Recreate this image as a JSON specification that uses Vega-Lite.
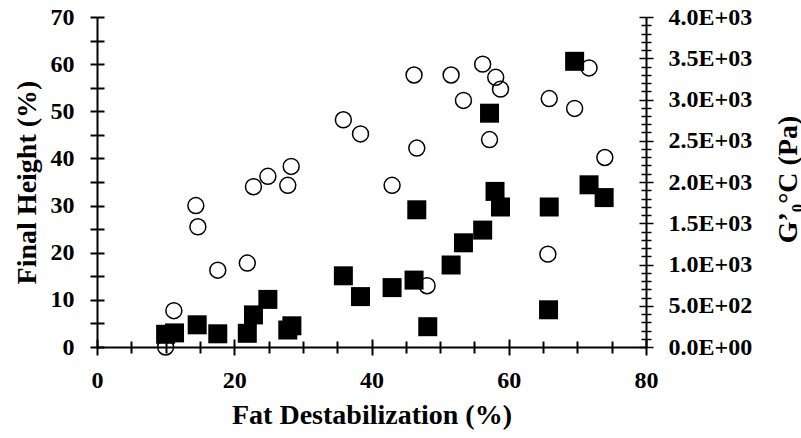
{
  "$schema": "https://vega.github.io/schema/vega-lite/v6.json",
  "autosize": {"type": "none"},
  "width": 549,
  "height": 330,
  "padding": {"left": 97, "top": 17, "right": 155, "bottom": 91},
  "background": "white",
  "config": {
    "view": {"stroke": null},
    "axis": {
      "domainColor": "black",
      "tickColor": "black",
      "labelColor": "black",
      "titleColor": "black",
      "labelFont": "Liberation Serif",
      "titleFont": "Liberation Serif",
      "labelFontWeight": "bold",
      "titleFontWeight": "bold",
      "labelFontSize": 24,
      "titleFontSize": 28,
      "grid": false,
      "domainWidth": 2,
      "tickWidth": 2,
      "labelOverlap": false,
      "labelBound": false,
      "labelFlush": false
    }
  },
  "datasets": {
    "height": [
      {"fd": 10.0, "h": 0.0}, {"fd": 11.2, "h": 7.7}, {"fd": 14.4, "h": 30.0}, {"fd": 14.7, "h": 25.5},
      {"fd": 17.6, "h": 16.3}, {"fd": 21.9, "h": 17.8}, {"fd": 22.8, "h": 34.0}, {"fd": 24.9, "h": 36.2},
      {"fd": 27.8, "h": 34.3}, {"fd": 28.3, "h": 38.3}, {"fd": 35.9, "h": 48.2}, {"fd": 38.4, "h": 45.2},
      {"fd": 43.0, "h": 34.3}, {"fd": 46.2, "h": 57.7}, {"fd": 51.6, "h": 57.7}, {"fd": 56.2, "h": 60.0},
      {"fd": 58.1, "h": 57.2}, {"fd": 58.8, "h": 54.7}, {"fd": 53.4, "h": 52.3}, {"fd": 46.6, "h": 42.2},
      {"fd": 57.2, "h": 44.0}, {"fd": 65.9, "h": 52.7}, {"fd": 69.6, "h": 50.6}, {"fd": 71.7, "h": 59.2},
      {"fd": 74.0, "h": 40.2}, {"fd": 48.1, "h": 13.0}, {"fd": 65.7, "h": 19.7}
    ],
    "modulus": [
      {"fd": 10.0, "g": 154}, {"fd": 11.3, "g": 171}, {"fd": 14.6, "g": 269}, {"fd": 17.6, "g": 160},
      {"fd": 21.9, "g": 166}, {"fd": 22.8, "g": 389}, {"fd": 24.9, "g": 577}, {"fd": 27.8, "g": 206},
      {"fd": 28.4, "g": 257}, {"fd": 35.9, "g": 863}, {"fd": 38.4, "g": 611}, {"fd": 43.0, "g": 720},
      {"fd": 46.6, "g": 1663}, {"fd": 46.2, "g": 811}, {"fd": 48.2, "g": 246}, {"fd": 51.6, "g": 994},
      {"fd": 53.4, "g": 1263}, {"fd": 56.2, "g": 1417}, {"fd": 58.0, "g": 1886}, {"fd": 58.8, "g": 1697},
      {"fd": 65.9, "g": 1697}, {"fd": 65.8, "g": 451}, {"fd": 71.7, "g": 1966}, {"fd": 73.9, "g": 1811},
      {"fd": 57.2, "g": 2834}, {"fd": 69.6, "g": 3463}
    ]
  },
  "layer": [
    {
      "data": {"name": "height"},
      "mark": {"type": "point", "shape": "circle", "filled": false, "size": 254, "stroke": "black", "strokeWidth": 1.5, "opacity": 1},
      "encoding": {
        "x": {
          "field": "fd", "type": "quantitative",
          "scale": {"domain": [0, 80], "nice": false, "zero": true},
          "axis": {
            "orient": "bottom",
            "title": "Fat Destabilization (%)",
            "values": [0, 5, 10, 15, 20, 25, 30, 35, 40, 45, 50, 55, 60, 65, 70, 75, 80],
            "labelExpr": "datum.value % 20 === 0 ? datum.label : ''",
            "tickSize": {"condition": {"test": "datum.value % 20 === 0", "value": 8}, "value": 6},
            "labelBaseline": "alphabetic",
            "labelPadding": 32,
            "titleBaseline": "alphabetic",
            "titleY": 76,
            "titleAnchor": "middle"
          }
        },
        "y": {
          "field": "h", "type": "quantitative",
          "scale": {"domain": [0, 70], "nice": false},
          "axis": {
            "orient": "left",
            "title": "Final Height (%)",
            "values": [0, 5, 10, 15, 20, 25, 30, 35, 40, 45, 50, 55, 60, 65, 70],
            "labelExpr": "datum.value % 10 === 0 ? datum.label : ''",
            "tickSize": 7,
            "labelPadding": 16,
            "labelBaseline": "middle",
            "titleAngle": -90,
            "titleX": -62,
            "titleY": 165,
            "titleAlign": "center",
            "titleBaseline": "alphabetic"
          }
        }
      }
    },
    {
      "data": {"name": "height"},
      "mark": {"type": "point", "opacity": 0},
      "encoding": {
        "x": {
          "field": "fd", "type": "quantitative",
          "scale": {"domain": [0, 80], "nice": false},
          "axis": {
            "orient": "bottom", "title": null, "labels": false, "domain": false,
            "values": [0, 5, 10, 15, 20, 25, 30, 35, 40, 45, 50, 55, 60, 65, 70, 75, 80],
            "tickSize": {"condition": {"test": "datum.value % 20 === 0", "value": -8}, "value": -6}
          }
        },
        "y": {
          "field": "h", "type": "quantitative",
          "scale": {"domain": [0, 70], "nice": false},
          "axis": {
            "orient": "left", "title": null, "labels": false, "domain": false,
            "values": [0, 5, 10, 15, 20, 25, 30, 35, 40, 45, 50, 55, 60, 65, 70],
            "tickSize": -7
          }
        }
      }
    },
    {
      "data": {"name": "modulus"},
      "mark": {"type": "point", "opacity": 0},
      "encoding": {
        "x": {"field": "fd", "type": "quantitative", "scale": {"domain": [0, 80], "nice": false}, "axis": null},
        "y": {
          "field": "g", "type": "quantitative",
          "scale": {"domain": [0, 4000], "nice": false},
          "axis": {
            "orient": "right", "title": null, "labels": false, "domain": false,
            "values": [0,100,200,300,400,500,600,700,800,900,1000,1100,1200,1300,1400,1500,1600,1700,1800,1900,2000,2100,2200,2300,2400,2500,2600,2700,2800,2900,3000,3100,3200,3300,3400,3500,3600,3700,3800,3900,4000],
            "tickSize": {"condition": {"test": "datum.value % 500 === 0", "value": -7}, "value": -5},
            "tickWidth": 1.5
          }
        }
      }
    },
    {
      "data": {"name": "modulus"},
      "mark": {"type": "point", "shape": "square", "filled": true, "size": 361, "color": "black", "opacity": 1},
      "encoding": {
        "x": {"field": "fd", "type": "quantitative", "scale": {"domain": [0, 80], "nice": false}, "axis": null},
        "y": {
          "field": "g", "type": "quantitative",
          "scale": {"domain": [0, 4000], "nice": false},
          "axis": {
            "orient": "right",
            "title": "G’₀°C (Pa)",
            "values": [0,100,200,300,400,500,600,700,800,900,1000,1100,1200,1300,1400,1500,1600,1700,1800,1900,2000,2100,2200,2300,2400,2500,2600,2700,2800,2900,3000,3100,3200,3300,3400,3500,3600,3700,3800,3900,4000],
            "labelExpr": "datum.value % 500 !== 0 ? '' : (datum.value === 0 ? '0.0E+00' : format(datum.value / pow(10, floor(log(datum.value) / LN10 + 1e-9)), '.1f') + 'E+' + (floor(log(datum.value) / LN10 + 1e-9) < 10 ? '0' : '') + floor(log(datum.value) / LN10 + 1e-9))",
            "tickSize": {"condition": {"test": "datum.value % 500 === 0", "value": 7}, "value": 5},
            "tickWidth": 1.5,
            "labelPadding": 15,
            "labelBaseline": "middle",
            "titleAngle": -90,
            "titleX": 150,
            "titleY": 162,
            "titleAlign": "center",
            "titleBaseline": "alphabetic"
          }
        }
      }
    }
  ],
  "resolve": {
    "scale": {"y": "independent"},
    "axis": {"x": "independent", "y": "independent"}
  }
}
